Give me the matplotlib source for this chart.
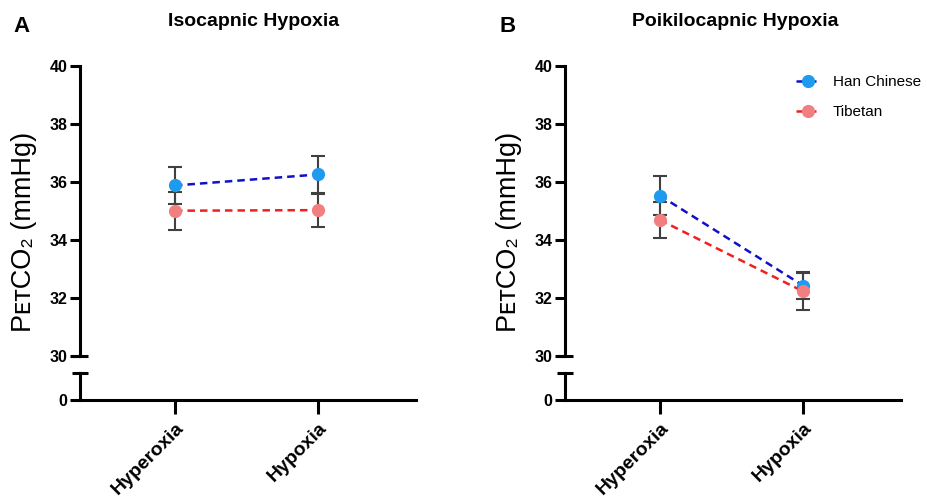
import matplotlib
matplotlib.use("Agg")
import matplotlib.pyplot as plt
import numpy as np

plt.rcParams['font.family'] = ['Liberation Sans', 'DejaVu Sans']

# data (mean +/- error)
conditions = ['Hyperoxia', 'Hypoxia']
groups = ['Han Chinese', 'Tibetan']

iso_han = [35.88, 36.26]
iso_han_err = [0.65, 0.64]
iso_tib = [35.01, 35.03]
iso_tib_err = [0.66, 0.57]

poi_han = [35.53, 32.43]
poi_han_err = [0.68, 0.47]
poi_tib = [34.69, 32.23]
poi_tib_err = [0.63, 0.63]

titles = ['Isocapnic Hypoxia', 'Poikilocapnic Hypoxia']
letters = ['A', 'B']

marker_cols = ['#1E9BEE', '#F27F80']
line_cols = ['#1010C8', '#F02020']
err_col = '#404040'

W, H = 927, 497
fig = plt.figure(figsize=(W / 100, H / 100), dpi=100)


def px_box(x0, x1, ytop, ybot):
    return [x0 / W, (H - ybot) / H, (x1 - x0) / W, (ybot - ytop) / H]


panels = [
    (iso_han, iso_han_err, iso_tib, iso_tib_err, 80, 416),
    (poi_han, poi_han_err, poi_tib, poi_tib_err, 565, 901),
]

x = np.arange(len(conditions))
xlim = (-0.664, 1.685)
spine_w = 2.2

for i, (han, han_e, tib, tib_e, x0, x1) in enumerate(panels):
    top = fig.add_axes(px_box(x0, x1, 66, 356))
    bot = fig.add_axes(px_box(x0, x1, 373, 400))

    for ax in (top, bot):
        ax.set_xlim(*xlim)
        ax.patch.set_alpha(0)
        ax.yaxis.remove_overlapping_locs = False
        for s in ('top', 'right'):
            ax.spines[s].set_visible(False)
        ax.spines['left'].set_linewidth(spine_w)
        ax.spines['bottom'].set_linewidth(spine_w)

    # upper part of broken axis
    top.spines['bottom'].set_visible(False)
    top.set_ylim(30, 40)
    top.set_yticks([30, 32, 34, 36, 38, 40])
    top.set_yticks([30], minor=True)
    top.tick_params(axis='y', which='major', length=7, width=spine_w, pad=2,
                    labelsize=11.5)
    top.tick_params(axis='y', which='minor', direction='inout', length=11,
                    width=spine_w)
    top.set_xticks([])
    for lab in top.get_yticklabels():
        lab.set_fontweight('bold')

    # lower part
    bot.set_ylim(0, 1)
    bot.set_yticks([0])
    bot.set_yticks([1], minor=True)
    bot.tick_params(axis='y', which='major', length=7, width=spine_w, pad=2,
                    labelsize=11.5)
    bot.tick_params(axis='y', which='minor', direction='inout', length=11,
                    width=spine_w)
    bot.set_xticks(x)
    bot.set_xticklabels(conditions, rotation=45, ha='right',
                        rotation_mode='anchor', fontsize=14, fontweight='bold')
    bot.tick_params(axis='x', length=10, width=spine_w, pad=4)
    for lab in bot.get_yticklabels():
        lab.set_fontweight('bold')

    for k, (vals, errs) in enumerate([(han, han_e), (tib, tib_e)]):
        top.errorbar(x, vals, yerr=errs, fmt='none', ecolor=err_col,
                     elinewidth=1.5, capsize=5, capthick=1.5, zorder=2,
                     clip_on=False)
    for k, vals in enumerate([han, tib]):
        top.plot(x, vals, linestyle=(0, (3, 2)), color=line_cols[k], lw=1.8,
                 marker='o', markersize=8.5, markerfacecolor=marker_cols[k],
                 markeredgecolor=marker_cols[k], label=groups[k], zorder=3,
                 clip_on=False)

    cx = (x0 + x1) / 2 / W
    fig.text(cx + (0.0055 if i == 0 else 0.002), 1 - 22 / H, titles[i],
             ha='center', va='center', fontsize=14, fontweight='bold')
    fig.text((21 if i == 0 else 508) / W, 1 - 26 / H, letters[i],
             ha='center', va='center', fontsize=16, fontweight='bold')
    fig.text((x0 - 56) / W, 1 - 232 / H, 'P\u1d07\u1d1bCO\u2082 (mmHg)',
             rotation=90, ha='center', va='center', fontsize=19.5)

    if i == 1:
        top.legend(loc='upper right', bbox_to_anchor=(1.10, 1.015), frameon=False,
                   fontsize=11, handlelength=1.6, handletextpad=0.8,
                   labelspacing=1.05)

fig.savefig('out.png', dpi=100)
